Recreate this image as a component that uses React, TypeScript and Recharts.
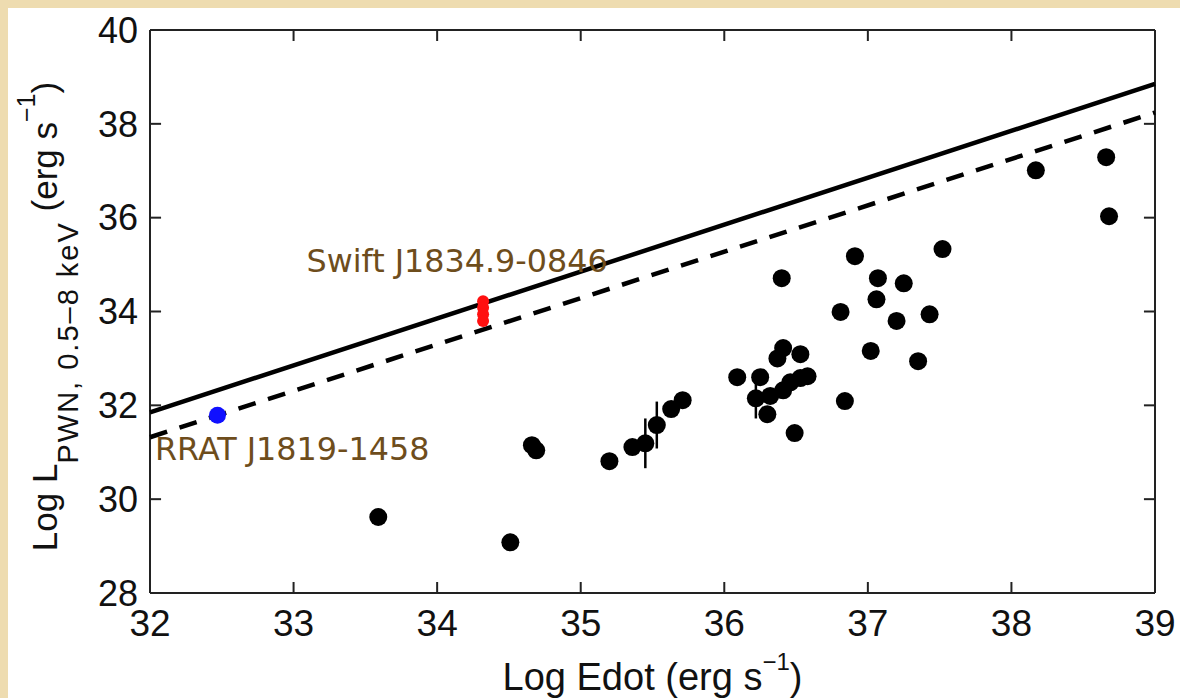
import React from 'react';
import { ScatterChart, Scatter, XAxis, YAxis, ErrorBar } from 'recharts';

const xTicks = [32, 33, 34, 35, 36, 37, 38, 39];
const yTicks = [28, 30, 32, 34, 36, 38, 40];

// fit lines (endpoints at the axis limits)
const solidLine = [{ x: 32, y: 31.85 }, { x: 39, y: 38.85 }];
const dashedLine = [{ x: 32, y: 31.32 }, { x: 39, y: 38.24 }];

// PWN sample
const pulsars = [
  { x: 33.59, y: 29.62 }, { x: 34.51, y: 29.08 }, { x: 34.66, y: 31.15 }, { x: 34.69, y: 31.04 },
  { x: 35.2, y: 30.81 }, { x: 35.36, y: 31.11 }, { x: 35.63, y: 31.92 }, { x: 35.71, y: 32.11 },
  { x: 36.09, y: 32.6 }, { x: 36.25, y: 32.6 }, { x: 36.3, y: 31.81 }, { x: 36.32, y: 32.2 },
  { x: 36.41, y: 32.32 }, { x: 36.46, y: 32.49 }, { x: 36.53, y: 32.58 }, { x: 36.58, y: 32.62 },
  { x: 36.37, y: 33.0 }, { x: 36.41, y: 33.22 }, { x: 36.53, y: 33.09 }, { x: 36.49, y: 31.41 },
  { x: 36.4, y: 34.71 }, { x: 36.81, y: 33.99 }, { x: 36.84, y: 32.09 }, { x: 36.91, y: 35.18 },
  { x: 37.02, y: 33.16 }, { x: 37.06, y: 34.26 }, { x: 37.07, y: 34.71 }, { x: 37.2, y: 33.8 },
  { x: 37.25, y: 34.6 }, { x: 37.35, y: 32.94 }, { x: 37.43, y: 33.94 }, { x: 37.52, y: 35.33 },
  { x: 38.17, y: 37.01 }, { x: 38.66, y: 37.29 }, { x: 38.68, y: 36.03 },
];
const pulsarsWithErr = [
  { x: 36.22, y: 32.15, err: 0.43 },
  { x: 35.45, y: 31.19, err: 0.53 },
  { x: 35.53, y: 31.58, err: 0.5 },
];
const rrat = [{ x: 32.47, y: 31.79 }];
const swift = [{ x: 34.32, y: 34.22 }, { x: 34.32, y: 34.08 }, { x: 34.32, y: 33.94 }, { x: 34.32, y: 33.8 }];
const annotations = [
  { x: 33.09, y: 34.84, text: 'Swift J1834.9-0846' },
  { x: 32.035, y: 30.83, text: 'RRAT J1819-1458' },
];

const FONT = '"Liberation Sans", Arial, Helvetica, sans-serif';
const AXIS_COLOR = '#222';
// inward tick length expressed in data units (~11px)
const X_TICK_LEN = 0.235;
const Y_TICK_LEN = 0.077;

const dot = (color: string, r: number) => (p: any) => <circle cx={p.cx} cy={p.cy} r={r} fill={color} />;
const noShape = () => <g />;

// inward tick marks drawn as one-sided error bars anchored on the box edges
const bottomTicks = xTicks.slice(1, -1).map((t) => ({ x: t, y: 28, e: [0, X_TICK_LEN] }));
const topTicks = xTicks.slice(1, -1).map((t) => ({ x: t, y: 40, e: [X_TICK_LEN, 0] }));
const leftTicks = yTicks.slice(1, -1).map((t) => ({ x: 32, y: t, e: [0, Y_TICK_LEN] }));
const rightTicks = yTicks.slice(1, -1).map((t) => ({ x: 39, y: t, e: [Y_TICK_LEN, 0] }));

const xLabel = (props: any) => {
  const vb = props.viewBox;
  const cx = vb.x + vb.width / 2;
  return (
    <text x={cx} y={690} textAnchor="middle" fontFamily={FONT} fontSize={38} fill="#111">
      Log Edot (erg s<tspan fontSize={24} dy={-20}>−1</tspan><tspan dy={20}>)</tspan>
    </text>
  );
};

const yLabel = (props: any) => {
  const vb = props.viewBox;
  const x = vb.x + 57;
  const cy = vb.y + vb.height / 2 + 5;
  return (
    <text x={x} y={cy} transform={`rotate(-90 ${x} ${cy})`} textAnchor="middle" fontFamily={FONT} fontSize={35} fill="#111">
      Log L<tspan fontSize={29} dy={21} style={{ letterSpacing: 2 }}>PWN, 0.5–8 keV</tspan>
      <tspan dy={-21}>{' (erg s'}</tspan>
      <tspan fontSize={25} dy={-22}>−1</tspan>
      <tspan dy={22}>)</tspan>
    </text>
  );
};

const annotationText = (p: any) => (
  <text x={p.cx} y={p.cy} fontFamily='"DejaVu Sans", sans-serif' fontSize={31.8} fill="#6e4d1c">
    {p.payload.text}
  </text>
);

const tickBar = (dir: 'x' | 'y') => (
  <ErrorBar dataKey="e" direction={dir} width={0} stroke={AXIS_COLOR} strokeWidth={2} isAnimationActive={false} />
);

export default function App() {
  return (
    <div style={{ position: 'absolute', left: 0, top: 0, width: 1180, height: 698, background: '#eedcb0', overflow: 'hidden' }}>
      <div style={{ position: 'absolute', left: 8, top: 8, width: 1172, height: 690, background: '#fff' }} />
      <div style={{ position: 'absolute', left: 0, top: 0 }}>
        <ScatterChart width={1180} height={698} margin={{ top: 29, right: 24, bottom: 0, left: 0 }}>
          <XAxis
            xAxisId="b" type="number" dataKey="x" domain={[32, 39]} ticks={xTicks} interval={0}
            orientation="bottom" height={105}
            tickSize={0} tickMargin={17} tickLine={false}
            axisLine={{ stroke: AXIS_COLOR, strokeWidth: 2 }}
            tick={{ fontSize: 37, fill: '#111', fontFamily: FONT }}
            label={xLabel}
          />
          <XAxis
            xAxisId="t" type="number" dataKey="x" domain={[32, 39]} ticks={xTicks} interval={0}
            orientation="top" height={1} tick={false} tickLine={false}
            axisLine={{ stroke: AXIS_COLOR, strokeWidth: 2 }}
          />
          <YAxis
            yAxisId="l" type="number" dataKey="y" domain={[28, 40]} ticks={yTicks} interval={0}
            orientation="left" width={150}
            tickSize={0} tickMargin={12} tickLine={false}
            axisLine={{ stroke: AXIS_COLOR, strokeWidth: 2 }}
            tick={{ fontSize: 36, fill: '#111', fontFamily: FONT }}
            label={yLabel}
          />
          <YAxis
            yAxisId="r" type="number" dataKey="y" domain={[28, 40]} ticks={yTicks} interval={0}
            orientation="right" width={1} tick={false} tickLine={false}
            axisLine={{ stroke: AXIS_COLOR, strokeWidth: 2 }}
          />

          <Scatter xAxisId="b" yAxisId="l" data={bottomTicks} shape={noShape} isAnimationActive={false}>{tickBar('y')}</Scatter>
          <Scatter xAxisId="b" yAxisId="l" data={topTicks} shape={noShape} isAnimationActive={false}>{tickBar('y')}</Scatter>
          <Scatter xAxisId="b" yAxisId="l" data={leftTicks} shape={noShape} isAnimationActive={false}>{tickBar('x')}</Scatter>
          <Scatter xAxisId="b" yAxisId="l" data={rightTicks} shape={noShape} isAnimationActive={false}>{tickBar('x')}</Scatter>

          <Scatter xAxisId="b" yAxisId="l" data={solidLine} line={{ stroke: '#000', strokeWidth: 4.5 }} shape={noShape} isAnimationActive={false} />
          <Scatter xAxisId="b" yAxisId="l" data={dashedLine} line={{ stroke: '#000', strokeWidth: 4.5, strokeDasharray: '18 13' }} shape={noShape} isAnimationActive={false} />

          <Scatter xAxisId="b" yAxisId="l" data={pulsars} shape={dot('#000', 9)} isAnimationActive={false} />
          <Scatter xAxisId="b" yAxisId="l" data={pulsarsWithErr} shape={dot('#000', 9)} isAnimationActive={false}>
            <ErrorBar dataKey="err" direction="y" width={0} stroke="#000" strokeWidth={2.5} isAnimationActive={false} />
          </Scatter>

          <Scatter xAxisId="b" yAxisId="l" data={rrat} shape={dot('#1010ff', 8.5)} isAnimationActive={false} />
          <Scatter xAxisId="b" yAxisId="l" data={swift} shape={dot('#ff1010', 6)} isAnimationActive={false} />

          <Scatter xAxisId="b" yAxisId="l" data={annotations} shape={annotationText} isAnimationActive={false} />
        </ScatterChart>
      </div>
    </div>
  );
}
